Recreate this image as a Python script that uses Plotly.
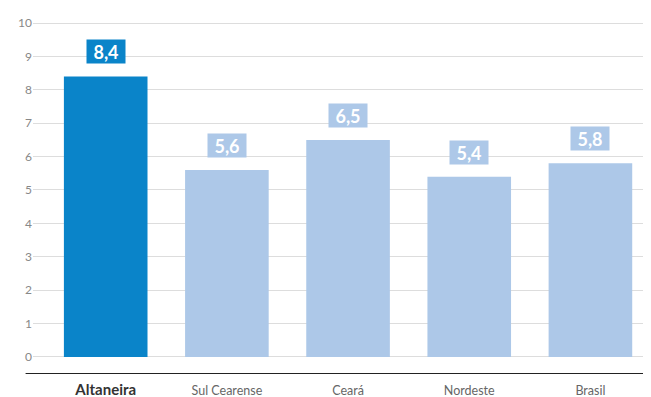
import plotly.graph_objects as go

categories = ["Altaneira", "Sul Cearense", "Ceará", "Nordeste", "Brasil"]
values = [8.4, 5.6, 6.5, 5.4, 5.8]
labels = ["8,4", "5,6", "6,5", "5,4", "5,8"]
tick_vals = [0, 1, 2, 3, 4, 5, 6, 7, 8, 9, 10]

dark = "#0a84c9"
light = "#adc8e8"
colors = [dark] + [light] * (len(categories) - 1)

tick_text = ["<span style='font-size:15px;color:#333333'><b>%s</b></span>" % categories[0]] + categories[1:]

fig = go.Figure()
fig.add_trace(go.Bar(
    x=list(range(len(categories))), y=values,
    marker=dict(color=colors, line=dict(width=0)),
    width=0.69, hoverinfo="skip",
))

for i, (v, lab) in enumerate(zip(values, labels)):
    fig.add_annotation(
        x=i, y=v, text="<b>%s</b>" % lab, showarrow=False,
        yanchor="bottom", yshift=12,
        font=dict(family="Lato, Open Sans, sans-serif", size=18, color="white"),
        bgcolor=colors[i], borderpad=0, width=38, height=23,
    )

fig.add_shape(type="line", xref="paper", yref="y",
              x0=-0.012, x1=1, y0=-0.51, y1=-0.51,
              line=dict(color="#222222", width=2))

# page has an 8px body margin, so the figure is sized to fill the rest of the window
fig.update_layout(
    width=643, height=389,
    margin=dict(l=25, r=0, t=5, b=23),
    plot_bgcolor="white", paper_bgcolor="white",
    showlegend=False,
    font=dict(family="Lato, Open Sans, sans-serif", color="#777777"),
    xaxis=dict(
        tickmode="array", tickvals=list(range(len(categories))),
        ticktext=tick_text, range=[-0.6, 4.5], automargin=False,
        showgrid=False, zeroline=False, showline=False,
        tickfont=dict(size=12.5, color="#666666"), ticks="", ticklen=0,
        ticklabelstandoff=7,
    ),
    yaxis=dict(
        range=[-0.51, 10.3], tickvals=tick_vals, automargin=False,
        showgrid=True, gridcolor="#dddddd", gridwidth=1,
        zeroline=False, showline=False,
        tickfont=dict(size=12, color="#888888"), ticks="",
    ),
)

fig.write_html("out.html")
